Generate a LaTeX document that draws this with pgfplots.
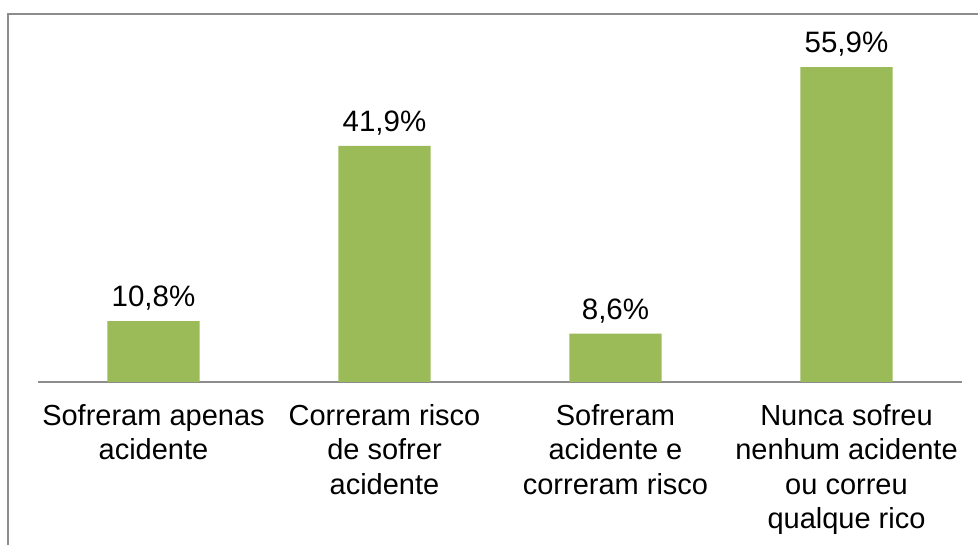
\documentclass[border=0pt]{standalone}
\usepackage{pgfplots}
\pgfplotsset{compat=1.18}
\usepackage{fontspec}
\setmainfont{Liberation Sans}
\definecolor{barg}{HTML}{9BBB59}
\definecolor{frameg}{HTML}{8C8C8C}
\begin{document}
\begin{tikzpicture}[x=1pt,y=1pt]
\begin{axis}[
  at={(38pt,163pt)}, anchor=south west,
  scale only axis, width=924pt, height=338pt,
  xmin=-0.5, xmax=3.5, ymin=0, ymax=60,
  axis y line=none,
  axis x line*=bottom,
  x axis line style={draw=frameg, line width=1.4pt, -},
  xtick={0,1,2,3},
  xticklabels={{Sofreram apenas\\acidente},{Correram risco\\de sofrer\\acidente},{Sofreram\\acidente e\\correram risco},{Nunca sofreu\\nenhum acidente\\ou correu\\qualque rico}},
  xticklabel style={align=center, font=\fontsize{29}{34.5}\selectfont, inner sep=0pt, yshift=-22pt},
  major tick length=0pt,
  ybar, bar width=0.4, bar shift=0pt,
  point meta=explicit symbolic,
  nodes near coords,
  every node near coord/.append style={font=\fontsize{29.5}{33.5}\selectfont, black, yshift=7pt},
  clip=false,
]
\addplot[fill=barg, draw=none] coordinates {
  (0,10.8) [10,8\%]
  (1,41.9) [41,9\%]
  (2,8.6) [8,6\%]
  (3,55.9) [55,9\%]
};
\end{axis}
\draw[frameg, line width=2pt] (8,-20) -- (8,531) -- (1000,531);
\pgfresetboundingbox
\useasboundingbox (0,0) rectangle (978,545);
\end{tikzpicture}
\end{document}
